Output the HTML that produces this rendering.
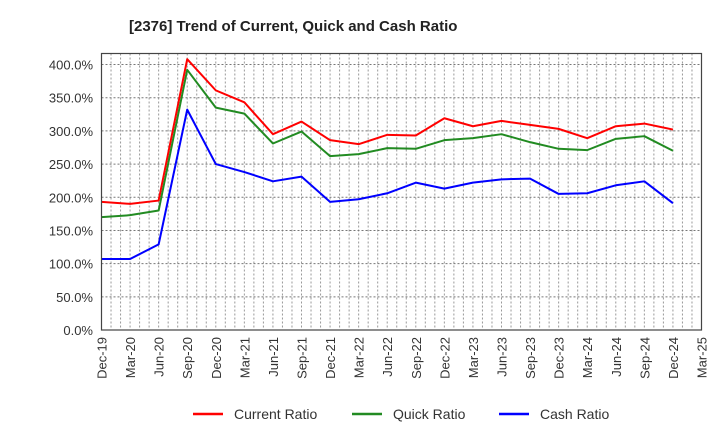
<!DOCTYPE html>
<html><head><meta charset="utf-8"><style>
body{margin:0;background:#fff;font-family:"Liberation Sans",sans-serif}
svg{display:block}
</style></head><body>
<svg id="chart" width="720" height="440" xmlns="http://www.w3.org/2000/svg" font-family="Liberation Sans, sans-serif">
<text x="129" y="31" font-size="15" font-weight="bold" fill="#222">[2376]  Trend of Current, Quick and Cash Ratio</text>
<g id="grid"></g>
<g id="series"></g>
<rect x="101.5" y="53.5" width="600" height="276.5" fill="none" stroke="#444" stroke-width="1.2"/>
<g id="yaxis"></g>
<g id="xaxis"></g>
<g>
<line x1="193" y1="414" x2="223" y2="414" stroke="#f00" stroke-width="2.5"/>
<text x="234" y="419" font-size="14" fill="#333">Current Ratio</text>
<line x1="352" y1="414" x2="382" y2="414" stroke="#228b22" stroke-width="2.5"/>
<text x="393" y="419" font-size="14" fill="#333">Quick Ratio</text>
<line x1="499" y1="414" x2="529" y2="414" stroke="#00f" stroke-width="2.5"/>
<text x="540" y="419" font-size="14" fill="#333">Cash Ratio</text>
</g>
</svg>
<script>
const categories=["Dec-19","Mar-20","Jun-20","Sep-20","Dec-20","Mar-21","Jun-21","Sep-21","Dec-21","Mar-22","Jun-22","Sep-22","Dec-22","Mar-23","Jun-23","Sep-23","Dec-23","Mar-24","Jun-24","Sep-24","Dec-24","Mar-25"];
const currentRatio=[193,190,195,408,361,343,295,314,286,280,294,293,319,307,315,309,303,289,307,311,302];
const quickRatio=[170,173,180,392,335,326,281,299,262,265,274,273,286,289,295,283,273,271,288,292,270];
const cashRatio=[107,107,129,332,250,238,224,231,193,197,206,222,213,222,227,228,205,206,218,224,191];
const yTicks=[0,50,100,150,200,250,300,350,400];
const NS="http://www.w3.org/2000/svg";
const L=101.5,R=701.5,B=330,T=53.5;
const xScale=i=>L+i*(R-L)/(categories.length-1);
const yScale=v=>B-v*(B-64.5)/400;
function mk(tag,attrs,parent){const e=document.createElementNS(NS,tag);for(const k in attrs)e.setAttribute(k,attrs[k]);parent.appendChild(e);return e;}
const grid=document.getElementById('grid');
const nMonths=(categories.length-1)*3;
for(let m=1;m<nMonths;m++){const x=L+m*(R-L)/nMonths;const ln=mk('line',{x1:x,x2:x,y1:T,y2:B,stroke:'#999','stroke-width':1,'stroke-dasharray':'2,2'},grid);

}
const ya=document.getElementById('yaxis');
yTicks.forEach(v=>{const y=yScale(v);
if(v>0){const g=mk('line',{x1:L,x2:R,y1:y,y2:y,stroke:'#777','stroke-width':1,'stroke-dasharray':'2,2'},grid);

}
const t=mk('text',{x:93,y:y+5,'text-anchor':'end','font-size':13,fill:'#333'},ya);t.textContent=v.toFixed(1)+'%';

});
const xa=document.getElementById('xaxis');
categories.forEach((c,i)=>{const x=xScale(i);const t=mk('text',{x:0,y:0,transform:`translate(${x+5},337) rotate(-90)`,'text-anchor':'end','font-size':13,fill:'#333'},xa);t.textContent=c;

});
const sg=document.getElementById('series');
[[currentRatio,'#f00','current-ratio-line'],[quickRatio,'#228b22','quick-ratio-line'],[cashRatio,'#00f','cash-ratio-line']].forEach(([d,c,n])=>{
const p=mk('polyline',{points:d.map((v,i)=>xScale(i)+','+yScale(v)).join(' '),fill:'none',stroke:c,'stroke-width':2,'stroke-linejoin':'round'},sg);

});
</script>
</body></html>
